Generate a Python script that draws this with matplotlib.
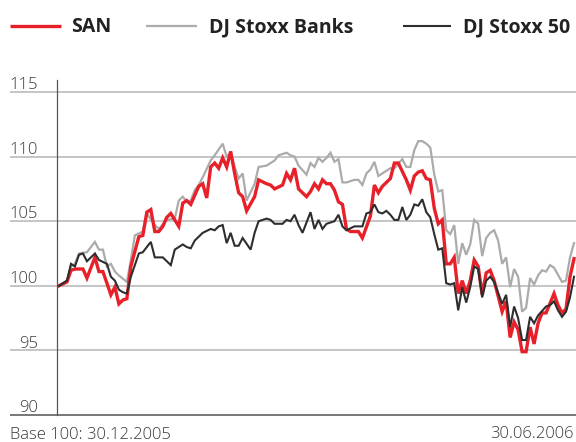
import matplotlib
matplotlib.use("Agg")
import matplotlib.pyplot as plt
import matplotlib.transforms as mtransforms

# ---------------- data (trading day index, index value; base 100 = 30.12.2005) ----
san_days = [0, 2, 3, 4, 6, 7, 9, 10, 11, 12, 13, 14, 15, 16, 17, 18, 20, 21, 22, 23,
            24, 25, 26, 27, 28, 30, 31, 32, 33, 34, 35, 36, 37, 38, 39, 40, 41, 42, 43,
            44, 45, 46, 47, 49, 50, 52, 53, 54, 56, 57, 58, 59, 60, 62, 63, 64, 65, 66,
            67, 68, 69, 70, 71, 72, 73, 74, 75, 76, 78, 79, 80, 81, 82, 83, 84, 85, 87,
            88, 89, 90, 91, 92, 93, 94, 95, 96, 97, 98, 99, 100, 101, 102, 103, 104, 105,
            106, 107, 108, 109, 111, 112, 113, 114, 115, 116, 117, 118, 119, 120, 121,
            122, 124, 125, 126, 127, 128, 129]
san_vals = [100.0, 100.3, 101.2, 101.3, 101.3, 100.6, 102.2, 101.1, 101.1, 100.2, 99.3,
            99.9, 98.6, 98.9, 99.0, 101.5, 103.8, 103.9, 105.7, 105.9, 104.2, 104.2, 104.6,
            105.3, 105.6, 104.6, 106.4, 106.6, 106.3, 107.0, 107.7, 107.9, 106.8, 109.2,
            109.5, 109.1, 109.9, 109.2, 110.4, 108.7, 107.2, 106.9, 105.8, 106.9, 108.2,
            107.9, 107.8, 107.5, 107.8, 108.7, 108.2, 109.1, 107.5, 106.9, 107.3, 107.9,
            107.5, 108.2, 107.9, 107.9, 107.4, 106.5, 106.3, 104.4, 104.2, 104.2, 104.2,
            103.7, 105.4, 107.8, 107.2, 107.7, 108.0, 108.3, 109.5, 109.5, 108.2, 107.4,
            108.5, 108.8, 108.9, 108.3, 108.2, 106.0, 104.8, 105.1, 101.7, 101.7, 102.2,
            99.4, 100.4, 99.4, 100.4, 102.0, 101.5, 99.3, 101.0, 101.2, 100.4, 98.0, 98.8,
            96.0, 97.2, 96.6, 94.9, 94.9, 96.8, 95.5, 97.1, 97.9, 97.9, 99.4, 98.5, 97.9,
            98.2, 100.7, 102.1]

banks_days = [0, 2, 3, 4, 5, 7, 9, 10, 11, 12, 13, 14, 15, 17, 18, 19, 21, 22, 24, 25,
              27, 29, 30, 31, 32, 33, 34, 35, 36, 38, 39, 41, 42, 43, 44, 45, 46, 47, 49,
              50, 52, 53, 54, 55, 57, 58, 59, 60, 62, 63, 64, 65, 66, 67, 68, 69, 70, 71,
              72, 74, 75, 76, 77, 78, 79, 80, 82, 83, 84, 86, 87, 88, 89, 90, 91, 92, 93,
              94, 95, 96, 97, 98, 99, 100, 101, 102, 103, 104, 105, 106, 107, 108, 109,
              110, 111, 112, 113, 114, 115, 116, 117, 118, 119, 120, 121, 122, 123, 124,
              126, 127, 128, 129]
banks_vals = [100.0, 100.4, 101.5, 101.7, 102.5, 102.6, 103.4, 102.8, 102.8, 101.5, 101.7,
              101.1, 100.8, 100.3, 102.0, 103.9, 104.2, 105.6, 104.7, 104.4, 105.1, 105.2,
              106.6, 106.9, 106.5, 106.6, 107.4, 107.8, 108.4, 109.7, 110.1, 111.0, 110.0,
              110.3, 109.2, 108.3, 108.7, 106.6, 107.9, 109.2, 109.3, 109.5, 109.7, 110.1,
              110.3, 110.1, 110.0, 109.3, 108.6, 109.5, 109.2, 109.9, 109.6, 109.9, 110.3,
              109.6, 109.8, 108.0, 108.0, 108.2, 108.2, 107.8, 108.7, 109.0, 109.6, 108.5,
              108.9, 109.1, 109.1, 109.8, 109.2, 109.2, 110.5, 111.2, 111.2, 111.0, 110.7,
              108.6, 107.3, 107.4, 104.3, 104.0, 104.7, 101.7, 103.3, 102.4, 103.2, 105.1,
              104.8, 102.3, 103.7, 104.1, 104.3, 103.5, 101.7, 102.2, 99.9, 101.3, 100.7,
              98.0, 98.3, 100.6, 100.1, 100.8, 101.2, 101.1, 101.6, 101.4, 100.3, 100.4,
              102.2, 103.3]

stoxx_days = [0, 2, 3, 4, 5, 6, 7, 9, 10, 12, 13, 14, 15, 16, 17, 18, 20, 21, 23, 24, 25,
              26, 28, 29, 30, 31, 32, 33, 34, 35, 36, 38, 39, 40, 41, 42, 43, 44, 45, 46,
              48, 49, 50, 52, 53, 54, 56, 57, 58, 59, 60, 61, 62, 63, 64, 65, 66, 67, 69,
              70, 71, 72, 74, 76, 77, 78, 79, 80, 81, 82, 83, 84, 85, 86, 87, 88, 89, 90,
              91, 92, 93, 94, 95, 96, 97, 98, 99, 100, 101, 102, 103, 104, 105, 106, 107,
              108, 109, 111, 112, 113, 114, 115, 116, 117, 118, 119, 120, 122, 123, 124,
              125, 126, 127, 128, 129]
stoxx_vals = [100.0, 100.4, 101.7, 101.5, 102.4, 102.5, 101.9, 102.5, 102.0, 101.7, 100.7,
              100.4, 99.7, 99.5, 99.4, 100.7, 102.5, 102.6, 103.4, 102.2, 102.2, 102.2,
              101.6, 102.8, 103.0, 103.2, 103.0, 102.9, 103.5, 103.8, 104.1, 104.4, 104.3,
              104.6, 104.7, 103.3, 104.1, 103.1, 103.1, 103.7, 102.8, 104.1, 105.0, 105.2,
              105.1, 104.8, 104.8, 105.1, 105.0, 105.5, 104.7, 104.1, 104.9, 105.7, 104.4,
              105.1, 104.4, 104.8, 105.0, 105.5, 104.6, 104.3, 104.6, 104.6, 105.6, 105.7,
              106.3, 105.7, 105.6, 105.8, 105.5, 105.1, 105.1, 106.1, 105.1, 105.5, 106.3,
              106.2, 106.7, 105.7, 105.3, 104.0, 102.8, 102.9, 100.2, 100.1, 100.2, 98.1,
              99.9, 98.7, 99.9, 101.5, 101.3, 99.1, 100.4, 100.7, 100.3, 98.6, 99.3, 96.8,
              98.4, 97.5, 95.8, 95.8, 97.6, 97.1, 97.7, 98.4, 98.5, 98.8, 98.1, 97.6, 98.0,
              99.1, 100.7]

series_names = ["SAN", "DJ Stoxx Banks", "DJ Stoxx 50"]
y_ticks = [90, 95, 100, 105, 110, 115]
base_label = "Base 100: 30.12.2005"
end_label = "30.06.2006"

# ---------------- styling ----------------
RED = "#e8202a"
GREY = "#ababab"
DARK = "#2e2e2e"
plt.rcParams["font.family"] = ["Open Sans", "DejaVu Sans"]
LIGHT = "light"

W, H = 576, 442
fig = plt.figure(figsize=(W / 100, H / 100), dpi=100)
ax = fig.add_axes([57 / W, 27 / H, 519 / W, 335 / H])
ax.set_xlim(-0.5, 129.5)
ax.set_ylim(90, 90 + 335 / 12.92)

for s in ["top", "right", "bottom"]:
    ax.spines[s].set_visible(False)
ax.spines["left"].set_color("#555555")
ax.spines["left"].set_linewidth(0.9)
ax.set_xticks([])
ax.set_yticks([])

trans = mtransforms.blended_transform_factory(ax.transAxes, ax.transData)
x0 = (10 - 57) / 519
for v in y_ticks:
    col = "#777777" if v == 90 else "#b5b5b5"
    lw = 1.4 if v == 90 else 1.1
    ax.plot([x0, 1.0], [v, v], transform=trans, color=col, lw=lw,
            clip_on=False, zorder=1, solid_capstyle="butt")
    ax.text((38 - 57) / 519, v + 0.22, str(v), transform=trans, ha="right",
            va="baseline", fontsize=12, color="#3a3a3a", fontweight=LIGHT)

ax.plot(banks_days, banks_vals, color=GREY, lw=1.6, zorder=3, solid_joinstyle="miter")
ax.plot(san_days, san_vals, color=RED, lw=2.4, zorder=4, solid_joinstyle="miter")
ax.plot(stoxx_days, stoxx_vals, color=DARK, lw=1.5, zorder=5, solid_joinstyle="miter")

# legend drawn manually
legend_items = [
    (10, 61, 71, RED, 2.4, series_names[0]),
    (146, 197, 209, GREY, 1.6, series_names[1]),
    (403, 451, 463, DARK, 1.5, series_names[2]),
]
ly = 1 - 25.7 / H
for xs, xe, xt, c, lw, name in legend_items:
    fig.add_artist(plt.Line2D([xs / W, xe / W], [ly, ly], color=c, lw=lw,
                              transform=fig.transFigure, solid_capstyle="butt"))
    fig.text(xt / W, 1 - 32.5 / H, name, ha="left", va="baseline", fontsize=14,
             fontweight="bold", color="#222222")

fig.text(10 / W, 1 - 439 / H, base_label, ha="left", va="baseline", fontsize=12,
         color="#3a3a3a", fontweight=LIGHT)
fig.text(574 / W, 1 - 438 / H, end_label, ha="right", va="baseline", fontsize=12,
         color="#3a3a3a", fontweight=LIGHT)

fig.savefig("out.png", dpi=100)
